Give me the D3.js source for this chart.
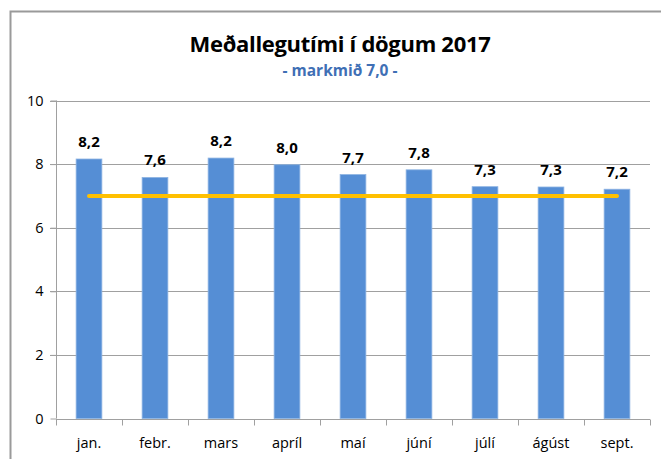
<!DOCTYPE html>
<html>
<head>
<meta charset="utf-8">
<script src="https://cdn.jsdelivr.net/npm/d3@7"></script>
<style>
  body { margin: 0; background: #fff; }
  svg { display: block; font-family: "Open Sans", "Liberation Sans", sans-serif; }
</style>
</head>
<body>
<svg id="chart" width="661" height="459"></svg>
<script>
var months = ["jan.", "febr.", "mars", "apríl", "maí", "júní", "júlí", "ágúst", "sept."];
var daysValues = [8.16, 7.58, 8.19, 7.98, 7.67, 7.82, 7.29, 7.28, 7.21];
var targetValue = 7.0;
var yTicks = [0, 2, 4, 6, 8, 10];

var svg = d3.select("#chart");
var margin = { left: 56, right: 11, top: 100, bottom: 40 };
var width = 661, height = 459;

// chart frame (only the top and left edges show inside the picture)
svg.append("path")
    .attr("d", "M10.5," + height + "V11.5H" + width)
    .attr("fill", "none")
    .attr("stroke", "#9a9a9a")
    .attr("stroke-width", 2);

var x = d3.scaleBand()
    .domain(months)
    .range([margin.left, width - margin.right])
    .paddingInner(0.61)
    .paddingOuter(0.305);

var y = d3.scaleLinear()
    .domain([0, 10])
    .range([418.5, 100.5]);

// gridlines
svg.append("g")
    .selectAll("line")
    .data(yTicks.filter(function(d) { return d > 0; }))
    .enter()
    .append("line")
    .attr("x1", margin.left - 6)
    .attr("x2", width - margin.right)
    .attr("y1", function(d) { return Math.round(y(d)) + 0.5; })
    .attr("y2", function(d) { return Math.round(y(d)) + 0.5; })
    .attr("stroke", "#a0a0a0")
    .attr("stroke-width", 1);

// y axis
var yAxis = svg.append("g")
    .attr("transform", "translate(" + (margin.left + 0.5) + ",0)")
    .call(d3.axisLeft(y).tickValues(yTicks).tickSize(6).tickPadding(7).tickFormat(d3.format("d")));
yAxis.select(".domain").attr("stroke", "#a0a0a0").attr("d", "M0," + y(10) + "V" + y(0));
yAxis.selectAll(".tick line").attr("stroke", "#a0a0a0");
yAxis.selectAll(".tick text")
    .attr("fill", "#000")
    .style("font-size", "14.5px")
    .style("font-family", "Open Sans, sans-serif");

// bars
svg.append("g")
    .selectAll("rect")
    .data(daysValues)
    .enter()
    .append("rect")
    .attr("x", function(d, i) { return x(months[i]); })
    .attr("y", function(d) { return y(d); })
    .attr("width", x.bandwidth())
    .attr("height", function(d) { return y(0) - y(d); })
    .attr("fill", "#558ed5")
    .attr("stroke", "#8db3e2")
    .attr("stroke-width", 0.8);

// x axis
var xAxis = svg.append("g")
    .attr("transform", "translate(0," + (Math.round(y(0)) + 0.5) + ")")
    .call(d3.axisBottom(x).tickSize(0).tickPadding(18));
xAxis.select(".domain").attr("stroke", "#a0a0a0").attr("d", "M" + margin.left + ",0H" + (width - margin.right));
xAxis.selectAll(".tick text")
    .attr("fill", "#000")
    .style("font-size", "14.5px")
    .style("font-family", "Open Sans, sans-serif");
var step = x.step();
xAxis.selectAll(".cat-tick")
    .data(d3.range(months.length + 1))
    .enter()
    .append("line")
    .attr("class", "cat-tick")
    .attr("x1", function(i) { return Math.round(margin.left + i * step) + 0.5; })
    .attr("x2", function(i) { return Math.round(margin.left + i * step) + 0.5; })
    .attr("y1", 0)
    .attr("y2", 6)
    .attr("stroke", "#a0a0a0");

// target line
var line = d3.line()
    .x(function(d) { return x(d) + x.bandwidth() / 2; })
    .y(function() { return y(targetValue); });
svg.append("path")
    .datum([months[0], months[months.length - 1]])
    .attr("d", line)
    .attr("fill", "none")
    .attr("stroke", "#ffc000")
    .attr("stroke-width", 4)
    .attr("stroke-linecap", "round");

// value labels
svg.append("g")
    .selectAll("text")
    .data(daysValues)
    .enter()
    .append("text")
    .attr("x", function(d, i) { return x(months[i]) + x.bandwidth() / 2; })
    .attr("y", function(d) { return y(d) - 12; })
    .attr("text-anchor", "middle")
    .style("font-size", "15px")
    .style("font-weight", "bold")
    .text(function(d) { return d3.format(".1f")(d).replace(".", ","); });

// titles
svg.append("text")
    .attr("x", 340)
    .attr("y", 52)
    .attr("text-anchor", "middle")
    .style("font-size", "22px")
    .style("font-weight", "bold")
    .style("letter-spacing", "-0.3px")
    .text("Meðallegutími í dögum 2017");
svg.append("text")
    .attr("x", 340)
    .attr("y", 76)
    .attr("text-anchor", "middle")
    .attr("fill", "#3f6fb5")
    .style("font-size", "15.5px")
    .style("font-weight", "bold")
    .text("- markmið 7,0 -");
</script>
</body>
</html>
